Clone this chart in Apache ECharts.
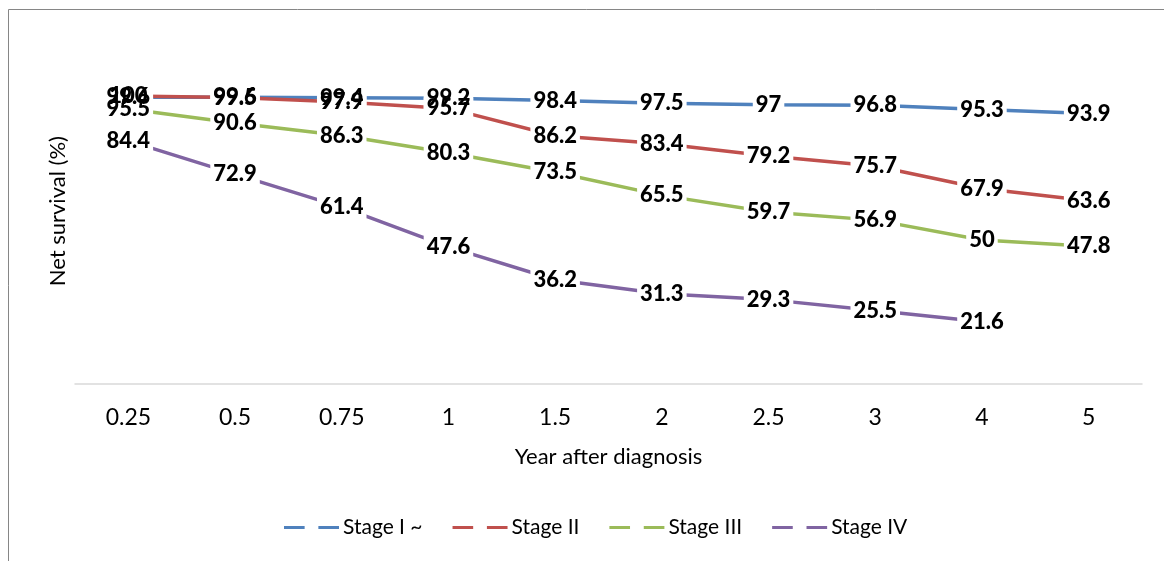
<!DOCTYPE html>
<html>
<head>
<meta charset="utf-8">
<script src="https://cdn.jsdelivr.net/npm/echarts@6/dist/echarts.min.js"></script>
<style>
html,body{margin:0;padding:0;background:#fff;}
#chart{width:1164px;height:561px;}
</style>
</head>
<body>
<div id="chart"></div>
<script>
const categories = ['0.25','0.5','0.75','1','1.5','2','2.5','3','4','5'];
const stage1 = [99.6, 99.6, 99.4, 99.2, 98.4, 97.5, 97, 96.8, 95.3, 93.9];
const stage2 = [100, 99.5, 97.9, 95.7, 86.2, 83.4, 79.2, 75.7, 67.9, 63.6];
const stage3 = [95.5, 90.6, 86.3, 80.3, 73.5, 65.5, 59.7, 56.9, 50, 47.8];
const stage4 = [84.4, 72.9, 61.4, 47.6, 36.2, 31.3, 29.3, 25.5, 21.6, null];
const seriesNames = ['Stage I ~', 'Stage II', 'Stage III', 'Stage IV'];
const colors = ['#4F81BD', '#C0504D', '#9BBB59', '#8064A2'];
const FONT = 'Lato, "Noto Sans", sans-serif';

const chart = echarts.init(document.getElementById('chart'), null, {renderer: 'canvas'});

const labelBase = {
  show: true,
  position: 'inside',
  fontFamily: FONT,
  fontWeight: 900,
  fontSize: 22,
  padding: [0, 3]
};

function lineSeries(name, data, color) {
  return {
    name: name,
    type: 'line',
    data: data,
    color: color,
    z: 2,
    symbol: 'circle',
    symbolSize: 0.1,
    showSymbol: true,
    lineStyle: {width: 3.5, color: color},
    itemStyle: {color: color},
    label: Object.assign({}, labelBase, {color: 'rgba(0,0,0,0)', backgroundColor: '#fff'}),
    emphasis: {disabled: true},
    animation: false
  };
}

function textSeries(name, data) {
  return {
    name: name + ' labels',
    type: 'line',
    data: data,
    z: 5,
    symbol: 'circle',
    symbolSize: 0.1,
    showSymbol: true,
    lineStyle: {width: 0, opacity: 0},
    itemStyle: {color: 'rgba(0,0,0,0)'},
    label: Object.assign({}, labelBase, {color: '#000'}),
    emphasis: {disabled: true},
    silent: true,
    animation: false
  };
}

chart.setOption({
  animation: false,
  textStyle: {fontFamily: FONT},
  graphic: [{
    type: 'rect',
    shape: {x: 8.5, y: 9.5, width: 1300, height: 700},
    style: {fill: null, stroke: '#868686', lineWidth: 1},
    silent: true,
    z: -10
  }],
  grid: {left: 75, right: 22, top: 38.4, bottom: 177},
  legend: {
    data: seriesNames,
    left: 279,
    top: 512,
    icon: 'path://M0,0h21v3h-21z M35,0h21v3h-21z',
    itemWidth: 55,
    itemHeight: 3,
    itemGap: 30,
    textStyle: {fontFamily: FONT, fontSize: 21, color: '#000', padding: [0, 0, 0, -1]}
  },
  xAxis: {
    type: 'category',
    data: categories,
    boundaryGap: true,
    axisLine: {show: true, lineStyle: {color: '#d9d9d9', width: 1.5}},
    axisTick: {show: false},
    axisLabel: {fontFamily: FONT, fontSize: 23, color: '#000', margin: 22},
    name: 'Year after diagnosis',
    nameLocation: 'middle',
    nameGap: 62,
    nameTextStyle: {fontFamily: FONT, fontSize: 22, color: '#000'}
  },
  yAxis: {
    type: 'value',
    min: 0,
    max: 120,
    axisLine: {show: false},
    axisTick: {show: false},
    axisLabel: {show: false},
    splitLine: {show: false},
    name: 'Net survival (%)',
    nameLocation: 'middle',
    nameGap: 6,
    nameTextStyle: {fontFamily: FONT, fontSize: 22, color: '#000'}
  },
  series: [
    lineSeries(seriesNames[0], stage1, colors[0]),
    lineSeries(seriesNames[1], stage2, colors[1]),
    lineSeries(seriesNames[2], stage3, colors[2]),
    lineSeries(seriesNames[3], stage4, colors[3]),
    textSeries(seriesNames[0], stage1),
    textSeries(seriesNames[1], stage2),
    textSeries(seriesNames[2], stage3),
    textSeries(seriesNames[3], stage4)
  ]
});
</script>
</body>
</html>
